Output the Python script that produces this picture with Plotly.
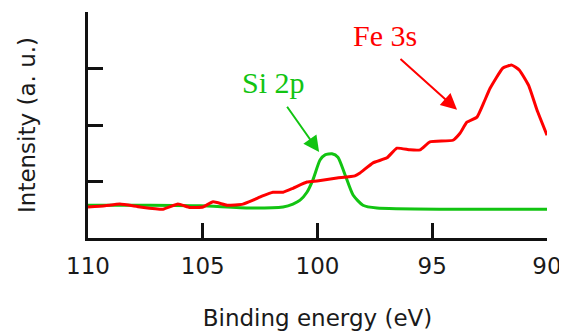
import plotly.graph_objects as go

# Fe 3s spectrum (binding energy eV, intensity a.u.)
fe_energy = [110.0, 109.26, 108.61, 107.73, 106.73, 106.08, 105.56, 104.99, 104.55, 103.94,
             103.25, 102.81, 102.42, 101.94, 101.50, 101.07, 100.46, 100.02, 99.15, 98.37,
             98.15, 97.58, 96.97, 96.54, 95.97, 95.53, 95.10, 94.10, 93.80, 93.49, 93.05,
             92.75, 92.48, 91.92, 91.53, 91.20, 90.80, 90.44, 90.0]
fe_intensity = [0.55, 0.57, 0.60, 0.55, 0.51, 0.60, 0.54, 0.55, 0.64, 0.58,
                0.60, 0.67, 0.74, 0.81, 0.81, 0.88, 0.99, 1.01, 1.06, 1.10,
                1.15, 1.33, 1.42, 1.59, 1.56, 1.56, 1.70, 1.73, 1.85, 2.05, 2.14,
                2.40, 2.65, 3.01, 3.06, 2.97, 2.70, 2.27, 1.82]

# Si 2p spectrum
si_energy = [110.0, 107.3, 105.12, 102.94, 101.50, 101.07, 100.76, 100.46, 100.20, 99.89,
             99.67, 99.37, 99.11, 98.80, 98.45, 98.02, 97.41, 94.23, 90.0]
si_intensity = [0.58, 0.58, 0.57, 0.53, 0.55, 0.60, 0.67, 0.81, 1.03, 1.38,
                1.47, 1.49, 1.43, 1.12, 0.76, 0.58, 0.53, 0.51, 0.51]

x_ticks = [110, 105, 100, 95, 90]
y_ticks = [0, 1, 2, 3, 4]

RED = "#ff0000"
GREEN = "#12c412"
AXIS = "#111111"
TXT = "#1a1a1a"

fig = go.Figure()
fig.add_trace(go.Scatter(x=si_energy, y=si_intensity, mode="lines",
                         line=dict(color=GREEN, width=3, shape="spline", smoothing=0.6),
                         showlegend=False))
fig.add_trace(go.Scatter(x=fe_energy, y=fe_intensity, mode="lines",
                         line=dict(color=RED, width=3, shape="spline", smoothing=0.4),
                         showlegend=False))

serif = "Liberation Serif, Times New Roman, serif"
fig.add_annotation(x=101.90, y=2.76, text="Si 2p", showarrow=False,
                   font=dict(family=serif, size=30, color=GREEN))
fig.add_annotation(x=99.93, y=1.52, ax=101.37, ay=2.35, axref="x", ayref="y",
                   text="", showarrow=True, arrowhead=2, arrowsize=1.6, arrowwidth=2,
                   arrowcolor=GREEN, standoff=0, startstandoff=0)
fig.add_annotation(x=97.06, y=3.59, text="Fe 3s", showarrow=False,
                   font=dict(family=serif, size=30, color=RED))
fig.add_annotation(x=93.92, y=2.27, ax=96.45, ay=3.19, axref="x", ayref="y",
                   text="", showarrow=True, arrowhead=2, arrowsize=1.6, arrowwidth=2,
                   arrowcolor=RED, standoff=0, startstandoff=0)

sans = "DejaVu Sans, Verdana, sans-serif"
# page body has an 8px margin, so the figure is sized 8px smaller
fig.update_layout(
    width=559, height=325,
    margin=dict(l=80, r=20, t=4, b=95),
    paper_bgcolor="white", plot_bgcolor="white",
    font=dict(family=sans, size=23, color=TXT),
    xaxis=dict(range=[110, 90], tickvals=x_ticks, ticktext=[str(v) for v in x_ticks],
               automargin=False,
               showgrid=False, zeroline=False, showline=True, linecolor=AXIS, linewidth=3,
               ticks="inside", ticklen=15, tickwidth=3, tickcolor=AXIS,
               ticklabelstandoff=5,
               tickfont=dict(family=sans, size=23, color=TXT),
               title=dict(text="Binding energy (eV)", font=dict(family=sans, size=23, color=TXT),
                          standoff=33)),
    yaxis=dict(range=[0, 4], tickvals=y_ticks, showticklabels=False,
               automargin=False,
               showgrid=False, zeroline=False, showline=True, linecolor=AXIS, linewidth=3,
               ticks="inside", ticklen=15, tickwidth=3, tickcolor=AXIS,
               title=dict(text="Intensity (a. u.)", font=dict(family=sans, size=23, color=TXT),
                          standoff=43)),
)

fig.write_html("out.html")
